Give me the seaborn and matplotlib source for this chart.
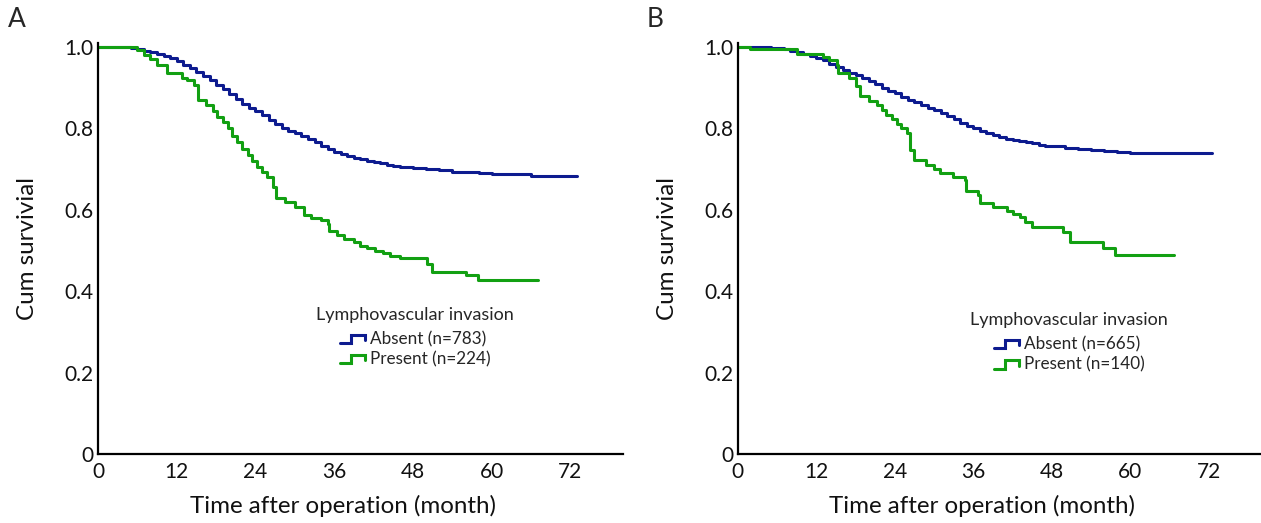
import pandas as pd
import matplotlib
matplotlib.use("Agg")
import matplotlib.pyplot as plt
from matplotlib.legend_handler import HandlerBase
from matplotlib.lines import Line2D
import seaborn as sns

sns.set_theme(style="white")
plt.rcParams['font.family'] = ['Lato', 'DejaVu Sans']

BLUE = '#0d1b8f'
GREEN = '#12a012'

# Panel A - Kaplan-Meier steps (month, cumulative survival)
a_absent_t = [0, 5, 6, 7, 8, 9, 10, 11, 12, 13, 14, 15, 16, 17, 18, 19, 20, 21, 22, 23,
              24, 25, 26, 27, 28, 29, 30, 31, 32, 33, 34, 35, 36, 37, 38, 39, 40, 41, 42,
              43, 44, 45, 46, 48, 50, 52, 54, 56, 58, 60, 66, 73]
a_absent_s = [1.0, 0.997, 0.994, 0.99, 0.987, 0.983, 0.978, 0.972, 0.965, 0.957, 0.948,
              0.939, 0.929, 0.918, 0.907, 0.896, 0.885, 0.872, 0.861, 0.851, 0.843, 0.832,
              0.821, 0.811, 0.801, 0.794, 0.788, 0.782, 0.774, 0.766, 0.758, 0.75, 0.743,
              0.737, 0.732, 0.728, 0.724, 0.72, 0.717, 0.714, 0.711, 0.708, 0.705, 0.702,
              0.7, 0.697, 0.694, 0.692, 0.69, 0.689, 0.683, 0.683]
a_present_t = [0, 6, 7, 8, 9, 10.5, 12.8, 13.6, 14.6, 15.3, 16.5, 17.5, 18.2, 19, 19.8,
               20.5, 21.2, 22, 22.8, 23.5, 24.3, 25, 25.8, 26.6, 27.2, 28.5, 30, 31.4,
               32.5, 34, 35, 35.2, 36.5, 37.5, 39, 40, 41, 42.2, 43.5, 44.5, 46, 50.2,
               50.9, 56.1, 57.9, 67]
a_present_s = [1.0, 0.993, 0.98, 0.97, 0.955, 0.935, 0.925, 0.918, 0.907, 0.87, 0.857,
               0.843, 0.828, 0.815, 0.8, 0.782, 0.767, 0.75, 0.735, 0.72, 0.706, 0.693,
               0.68, 0.655, 0.628, 0.618, 0.608, 0.588, 0.581, 0.575, 0.566, 0.548, 0.538,
               0.528, 0.521, 0.51, 0.505, 0.5, 0.494, 0.487, 0.481, 0.468, 0.448, 0.44,
               0.428, 0.428]

# Panel B
b_absent_t = [0, 5, 7, 8, 9, 10, 11, 12, 13, 14, 15, 16, 17, 18, 19, 20, 21, 22, 23, 24,
              25, 26, 27, 28, 29, 30, 31, 32, 33, 34, 35, 36, 37, 38, 39, 40, 41, 42, 43,
              44, 45, 46, 47, 48, 50, 52, 54, 56, 58, 60, 72.5]
b_absent_s = [1.0, 0.997, 0.994, 0.991, 0.987, 0.983, 0.979, 0.974, 0.967, 0.958, 0.95,
              0.943, 0.936, 0.93, 0.923, 0.916, 0.908, 0.9, 0.893, 0.886, 0.878, 0.871,
              0.864, 0.857, 0.851, 0.845, 0.838, 0.83, 0.822, 0.814, 0.807, 0.8, 0.794,
              0.789, 0.784, 0.779, 0.775, 0.772, 0.769, 0.766, 0.763, 0.76, 0.758, 0.756,
              0.753, 0.749, 0.746, 0.744, 0.741, 0.74, 0.74]
b_present_t = [0, 1.8, 9, 13, 14, 15.1, 15.3, 17, 18, 18.7, 20, 21.2, 22, 22.7, 23.5, 24.3,
               25, 25.8, 26.3, 27, 28.8, 30, 30.9, 32.9, 34.7, 34.9, 36.7, 37, 39, 41.1,
               42, 43.1, 43.9, 44.9, 49.7, 50.8, 55.9, 57.6, 66.7]
b_present_s = [1.0, 0.994, 0.984, 0.976, 0.968, 0.957, 0.936, 0.923, 0.905, 0.88, 0.868,
               0.857, 0.845, 0.833, 0.822, 0.812, 0.8, 0.788, 0.747, 0.722, 0.71, 0.7,
               0.69, 0.681, 0.673, 0.645, 0.636, 0.617, 0.608, 0.596, 0.59, 0.583, 0.571,
               0.558, 0.546, 0.521, 0.505, 0.489, 0.489]

x_ticks = [0, 12, 24, 36, 48, 60, 72]
y_ticks = [0, 0.2, 0.4, 0.6, 0.8, 1.0]
y_labels = ['0', '0.2', '0.4', '0.6', '0.8', '1.0']

panels = [
    ('A', a_absent_t, a_absent_s, a_present_t, a_present_s, 783, 224, (0.604, 0.375), 0.006),
    ('B', b_absent_t, b_absent_s, b_present_t, b_present_s, 665, 140, (0.633, 0.362), 0.513),
]


class StepHandler(HandlerBase):
    def create_artists(self, legend, orig_handle, xdescent, ydescent, width, height,
                       fontsize, trans):
        x0, y0 = -xdescent, -ydescent
        xs = [x0, x0 + 0.45 * width, x0 + 0.45 * width, x0 + width, x0 + width]
        ys = [y0 + 0.1 * height, y0 + 0.1 * height, y0 + 0.8 * height,
              y0 + 0.8 * height, y0 + 0.35 * height]
        ln = Line2D(xs, ys, color=orig_handle.get_color(), lw=2.2,
                    solid_joinstyle='miter', transform=trans)
        return [ln]


fig = plt.figure(figsize=(12.61, 5.23), dpi=100)
axes_pos = [[0.0777, 0.1319, 0.4163, 0.786], [0.5852, 0.1319, 0.4148, 0.786]]

for pos, (letter, at, asv, pt, psv, n_abs, n_pre, leg_xy, letter_x) in zip(axes_pos, panels):
    ax = fig.add_axes(pos)
    df = pd.concat([
        pd.DataFrame({'time': at, 'surv': asv, 'group': 'Absent'}),
        pd.DataFrame({'time': pt, 'surv': psv, 'group': 'Present'}),
    ])
    sns.lineplot(data=df, x='time', y='surv', hue='group', estimator=None, sort=False,
                 palette={'Absent': BLUE, 'Present': GREEN}, drawstyle='steps-post',
                 linewidth=2.2, legend=False, ax=ax)
    ax.set_xlim(0, 80)
    ax.set_ylim(0, 1.01)
    ax.set_xticks(x_ticks)
    ax.set_xticklabels([str(t) for t in x_ticks])
    ax.set_yticks(y_ticks)
    ax.set_yticklabels(y_labels)
    for s in ['top', 'right']:
        ax.spines[s].set_visible(False)
    for s in ['left', 'bottom']:
        ax.spines[s].set_color('black')
        ax.spines[s].set_linewidth(1.6)
    ax.tick_params(direction='in', length=7.5, width=1.6, color='black',
                   labelsize=15, labelcolor='#111111')
    ax.tick_params(axis='y', pad=3)
    ax.tick_params(axis='x', pad=6)
    ax.set_xlabel('Time after operation (month)', fontsize=17.4, color='#111111')
    ax.set_ylabel('Cum survivial', fontsize=17.4, color='#111111')
    ax.xaxis.set_label_coords(0.467, -0.1)
    ax.yaxis.set_label_coords(-0.115, 0.5)

    handles = [Line2D([], [], color=BLUE), Line2D([], [], color=GREEN)]
    leg = ax.legend(handles, [f'Absent (n={n_abs})', f'Present (n={n_pre})'],
                    title='Lymphovascular invasion', loc='upper center',
                    bbox_to_anchor=leg_xy, frameon=False, fontsize=12.3,
                    title_fontsize=13, handlelength=1.5, handletextpad=0.25,
                    labelspacing=0.25, borderaxespad=0,
                    handler_map={Line2D: StepHandler()})
    leg._legend_box.sep = 6
    fig.text(letter_x, 0.962, letter, fontsize=19, ha='left', va='center')

fig.savefig('out.png', dpi=100)
